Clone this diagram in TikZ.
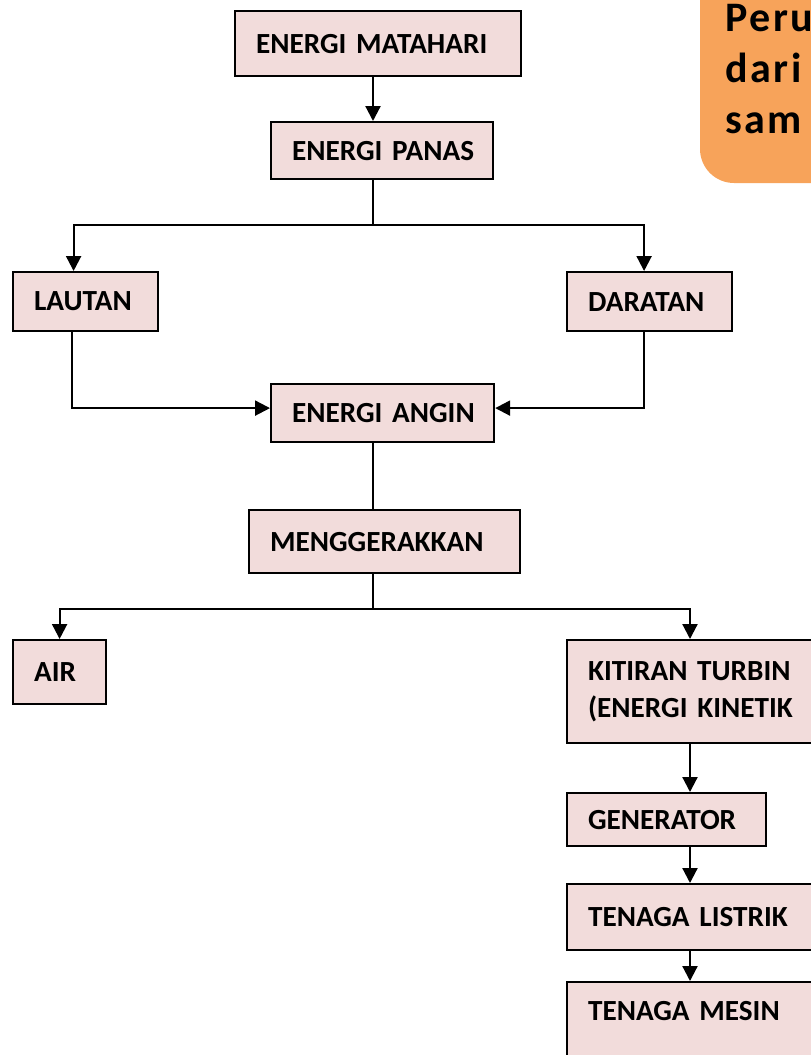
\documentclass[tikz,border=0pt]{standalone}
\usepackage{fontspec}
\setmainfont{Carlito}
\usetikzlibrary{arrows.meta, positioning}

\definecolor{kotakpink}{HTML}{F2DCDB}
\definecolor{oranye}{HTML}{F7A35A}

\tikzset{
	kotak/.style={draw=black, line width=1.1pt, fill=kotakpink, anchor=north west,
		align=left, inner xsep=0pt, inner ysep=0pt,
		execute at begin node={\leftskip=10.5pt\hyphenpenalty=10000},
		font=\bfseries\fontsize{14.6}{18.5}\selectfont},
	garis/.style={line width=1.1pt},
	panah/.style={line width=1.1pt, -{Triangle[length=7.5pt, width=7.5pt]}}
}

\begin{document}
\begin{tikzpicture}[x=0.5pt, y=-0.5pt]
		\useasboundingbox (0,0) rectangle (810,1055);
		
		% --- Kotak judul (oranye, kanan atas)
		\fill[oranye, rounded corners=17pt] (700,-60) rectangle (880,183);
		\node[anchor=north west, align=left, inner sep=0pt,
			font=\bfseries\fontsize{21}{25.5}\selectfont\addfontfeature{LetterSpace=6}]
			(judul) at (725,4) {Peru\\dari\\sam};
		
		% --- Kotak-kotak alur (lebar = text width)
		\node[kotak, text width=143pt, minimum height=32.5pt] (mat) at (234,10) {ENERGI MATAHARI};
		\node[kotak, text width=111pt, minimum height=28.5pt] (pan) at (270,121) {ENERGI PANAS};
		\node[kotak, text width=72.5pt, minimum height=29.5pt] (lau) at (12,271) {LAUTAN};
		\node[kotak, text width=82.5pt, minimum height=29.5pt] (dar) at (566,271) {DARATAN};
		\node[kotak, text width=111.5pt, minimum height=29pt] (ang) at (270,383) {ENERGI ANGIN};
		\node[kotak, text width=135.5pt, minimum height=31.5pt] (gerak) at (248,509) {MENGGERAKKAN};
		\node[kotak, text width=46.5pt, minimum height=32pt] (air) at (12,639) {AIR};
		\node[kotak, text width=130pt, minimum height=51.5pt] (kit) at (566,639) {KITIRAN TURBIN\\(ENERGI KINETIK};
		\node[kotak, text width=99.5pt, minimum height=26.5pt] (gen) at (566,792) {GENERATOR};
		\node[kotak, text width=130pt, minimum height=33pt] (lis) at (566,883) {TENAGA LISTRIK};
		\node[kotak, text width=130pt, minimum height=45pt, text depth=16pt] (mes) at (566,981) {TENAGA MESIN};
		
		% Sumbu tegak
		\coordinate (sumbu) at (373,0);
		\coordinate (sumbu2) at (690,0);
		
		% --- Panah
		\draw[panah] (mat.south -| sumbu) -- (pan.north -| sumbu);
		\draw[garis] (pan.south -| sumbu) -- ++(0,45) coordinate (cabang1);
		\draw[panah] (cabang1) -| ([xshift=-6pt]lau.north);
		\draw[panah] (cabang1) -| ([xshift=-2.75pt]dar.north);
		\draw[panah] ([xshift=-7pt]lau.south) |- ([yshift=2.5pt]ang.west);
		\draw[panah] ([xshift=-2.75pt]dar.south) |- ([yshift=2.5pt]ang.east);
		\draw[garis] (ang.south -| sumbu) -- (gerak.north -| sumbu);
		\draw[garis] (gerak.south -| sumbu) -- ++(0,35) coordinate (cabang2);
		\draw[panah] (cabang2) -| (air.north);
		\draw[panah] (cabang2) -| (kit.north -| sumbu2);
		\draw[panah] (kit.south -| sumbu2) -- (gen.north -| sumbu2);
		\draw[panah] (gen.south -| sumbu2) -- (lis.north -| sumbu2);
		\draw[panah] (lis.south -| sumbu2) -- (mes.north -| sumbu2);
		
	\end{tikzpicture}
\end{document}
